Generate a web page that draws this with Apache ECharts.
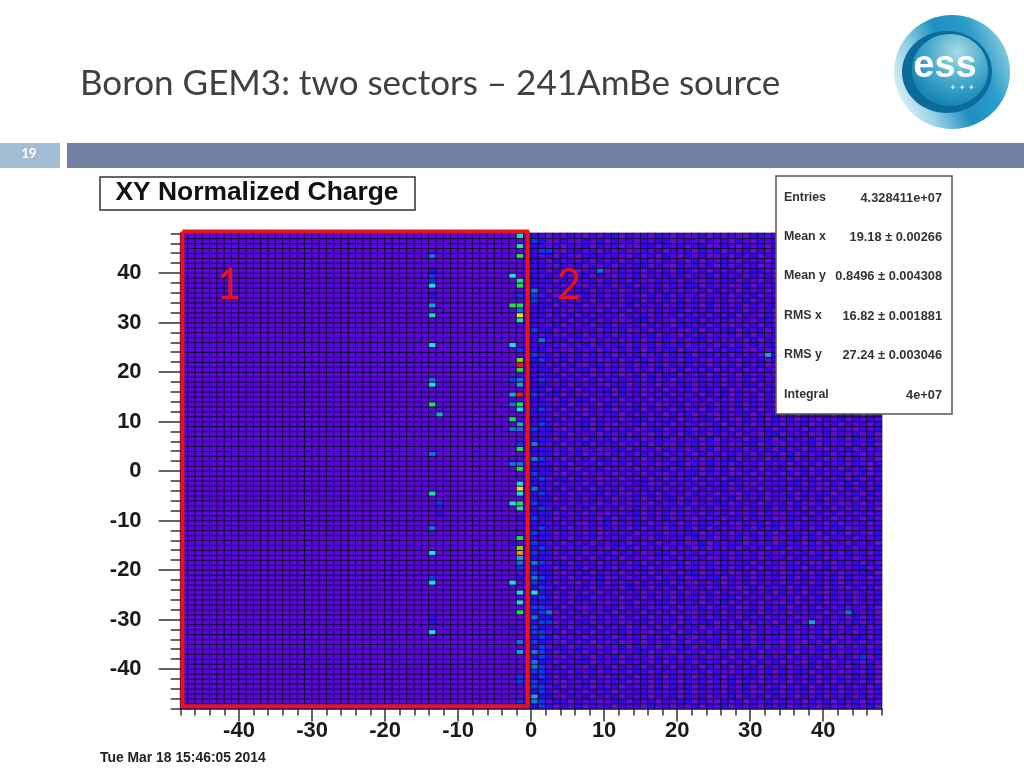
<!DOCTYPE html>
<html>
<head>
<meta charset="utf-8">
<title>Boron GEM3</title>
<script src="https://cdn.jsdelivr.net/npm/echarts@6/dist/echarts.min.js"></script>
<style>
html, body { margin: 0; padding: 0; background: #fff; }
#chart { width: 1024px; height: 768px; filter: blur(0.45px); }
</style>
</head>
<body>
<div id="chart"></div>
<script>
const slideTitle = 'Boron GEM3: two sectors \u2013 241AmBe source';
const slideNumber = '19';
const histTitle = 'XY Normalized Charge';
const dateStamp = 'Tue Mar 18 15:46:05 2014';
const statLabels = ['Entries', 'Mean x', 'Mean y', 'RMS x', 'RMS y', 'Integral'];
const statValues = ['4.328411e+07', '19.18 \u00b1 0.00266', '0.8496 \u00b1 0.004308', '16.82 \u00b1 0.001881', '27.24 \u00b1 0.003046', '4e+07'];

const sectorBox = [[-47.75, 48.4], [-0.48, 48.4], [-0.48, -47.5], [-47.75, -47.5], [-47.75, 48.4]];

// colour steps, level 0 = purple ... level 13 = red
const levelColors = ['#6410d0', '#5a08dc', '#3e06ea', '#2e0cf0', '#0c3cf0', '#1274dc', '#1aa4d8', '#20e0e8',
  '#20e0a4', '#20e050', '#78e010', '#e8e020', '#f09010', '#e82010'];
const sectorOneLevel = 1;

// [x bin, y bin, level]
const hotCells = [
  [-14,43,5],[-14,40,3],[-14,39,4],[-14,38,4],[-14,37,7],[-14,35,3],[-14,33,6],[-14,31,8],[-14,25,7],[-14,18,5],[-14,17,7],
  [-14,13,9],[-13,11,6],[-14,3,5],[-14,-5,8],[-13,-7,4],[-13,-9,3],[-14,-12,5],[-14,-17,7],[-14,-22,4],[-14,-23,7],
  [-14,-30,3],[-14,-31,3],[-14,-33,7],
  [-2,47,8],[-2,45,8],[-2,43,9],[-2,38,8],[-2,37,9],[-2,35,4],[-2,33,9],[-2,32,5],[-2,31,11],[-2,30,8],[-2,24,4],
  [-2,22,10],[-2,21,13],[-2,20,9],[-2,18,5],[-2,17,6],[-2,15,13],[-2,13,9],[-2,12,7],[-2,9,6],[-2,8,5],[-2,5,4],[-2,4,9],
  [-2,1,5],[-2,0,9],[-2,-3,7],[-2,-4,11],[-2,-5,7],[-2,-7,9],[-2,-8,8],[-2,-10,3],[-2,-14,9],[-2,-16,10],[-2,-17,12],
  [-2,-18,6],[-2,-19,5],[-2,-20,4],[-2,-22,3],[-2,-25,7],[-2,-27,7],[-2,-29,9],[-2,-35,5],[-2,-37,6],[-2,-42,4],[-2,-43,4],[-2,-47,4],
  [-3,39,7],[-3,33,9],[-3,25,7],[-3,18,4],[-3,15,6],[-3,13,5],[-3,10,9],[-3,8,5],[-3,1,5],[-3,-7,7],[-3,-15,3],[-3,-23,7],[-3,-32,3],
  [0,46,4],[0,36,5],[0,34,4],[0,5,5],[0,2,5],[0,-4,5],[0,-19,5],[0,-22,5],[0,-25,7],[0,-30,5],[0,-32,4],[0,-37,5],[0,-39,5],[0,-40,5],[0,-46,6],[0,-47,5],
  [9,40,5],[2,44,4],[1,26,5],[32,23,6],[2,-29,5],[43,-29,5],[38,-31,6]
];

// sector 2, one string per y bin from 47 down to -48, one digit per x bin from 0 to 47
const sectorTwoRows = [
  '320212102123021203202112021210221302120212012021',
  '230121021302120212301210212031021202130210212102',
  '321202130212010230212023012102120321201212021210',
  '242103212021201312021202130212021201302120210212',
  '312021023212102120310212012021302102120213021202',
  '220312120213021201212030212102120212012130212012',
  '321021302120212302102121203021201302120212021230',
  '230212012301212021203212021201321021202130212102',
  '312120230210213021212021302120212012102302120212',
  '223021212031202102130210212302102120312021021203',
  '321202102120230212021230212012021302120130212021',
  '230121230212012302120212031202120212102123021202',
  '412021021302121021302120212021302102312021202130',
  '321302120212023021203021212013021202120213021202',
  '232021302102130212012120302120212310212021202103',
  '321210212031202102123021202130212021201302102120',
  '230203021212021302120212021302102123021201302121',
  '312120213021012302102130212012023021202130212012',
  '221302120230212021203212021021302120121202102130',
  '423021212021301202121030212302120212031202130212',
  '312102302120212130210212021203021212021203021201',
  '241230210212012021302123021120302102130212021230',
  '322102130212302120212021203021212302102021213021',
  '331210212021203021230212021321021202120130212102',
  '412021302130212012021203212021201302312021202120',
  '342130212012021302120321021202130212021302120212',
  '321202102302120213021212021302120123021202103212',
  '232021230212021202103021302120212021302120212031',
  '312302120213012021230212021203121021202130212021',
  '241021203021212031202102130212021230212012021302',
  '322130212102302120212302120212302102130212021210',
  '330212021230212012021203212021021302120212013021',
  '412302102120312021302120213021202123021203012120',
  '321021230212021203021212021021302120212302120213',
  '232130212031202120123021202130212012021302120212',
  '341202102120213021202120312021202130212102120302',
  '322021302123021212031202102123021202021230212012',
  '231302120212012302120212302102120312021021302121',
  '342021230210212021302120130212021202130212021203',
  '423102120302120123021202123021213021202120210213',
  '322130212021302102120312021202102302120130212020',
  '233021202130212012302120302120213021212021302121',
  '421202130212021302102130212012302102123021202130',
  '332120212012302120212021302120212031202102130212',
  '323021302102120312021203021212021203021230212021',
  '241202120230212021302120212302120213021201302120',
  '332130212021302120123021213021202120212031202102',
  '323021021302120212302120212021302120130212021302',
  '432102302120213021021230212012021203021212301202',
  '341230212012021203021302120321202130212021203021',
  '322021203021212301202120213021021212302102130212',
  '431202130212021213021202123021202130212012021203',
  '342130212302102120212031202102130212021230212021',
  '323021202120213021230212021302120212021302120213',
  '432120213021202102120302123021202120310212012021',
  '341302120212013021213021202120213021202120302120',
  '332021302102123021202120312021302102120213021212',
  '423021212030212021302102120230212012302120212031',
  '331202102130212302120212302102130212021203021202',
  '342130212021203021021203021212021302120212301212',
  '423021203012120213021230212021203021212031202102',
  '332120213021202102123021202130212012302102120213',
  '431302120212302120212013021230212021203021202120',
  '342021302102130212021203021202120230212102130212',
  '433021202130212012302120212031202102130212021203',
  '332102120213021202130212012021302120212302120212',
  '441230212021203021213021202123021202120130212021',
  '332021302120212302102120213021202102302120212302',
  '423102130212021302120230212012021302120212021230',
  '342120212301202120213021230212021203021212031202',
  '433021021302120212302102120213021202120213021212',
  '341302120212031202130212021201302120212302102130',
  '432021203021212021203021302120212031202102120212',
  '343021230212013021202120212302120212021302120213',
  '332120212102130212302120213021202103021202130212',
  '441302102123021202120213021201202130212021302120',
  '342021302120212031202102130212302120212302102120',
  '433102120213021202130212021202130212012021203021',
  '344021230212012302120212302120212021302120213021',
  '332120213021202120302120213021021203021212021302',
  '441302120212302102120312021203021212021302120212',
  '343021202130212021302102120213021202130212012302',
  '432102130212012021203021230212021202102130212021',
  '341230212021302120212302120212130212021203021202',
  '443021302120212302102120213021202103021212021213',
  '342102120213021202130212012021302120212302120402',
  '433021230212021203021302120212021302102120213021',
  '341302102120213021202120312021202120213021202130',
  '442120213021202302120213021021203021230212012021',
  '343021302102130212021202130212302120212021302120',
  '432102120212301202130212021302102120213021212030',
  '441302130212021203021202120213021202130212021203',
  '342021202130212302120302120212012302120213021202',
  '433102130212021202130212021302120212021302120212',
  '341230212012302120212302102120213021202120313021',
  '342021302120212031202120213021202130212021202130'
];

const binLabels = [];   // bin index, -48 .. 47
const edgeLabels = [];  // bin edges, -48 .. 48, for the long ticks and numbers
for (let i = -48; i <= 48; i++) {
  edgeLabels.push(String(i));
  if (i < 48) binLabels.push(i);
}
const isTen = function (index, value) {
  return Number(value) !== 0 ? Number(value) % 10 === 0 : true;
};

const cellLevels = {};
for (let r = 0; r < sectorTwoRows.length; r++) {
  for (let c = 0; c < 48; c++) {
    cellLevels[(c + 48) + '_' + (95 - r)] = Number(sectorTwoRows[r][c] || 2);
  }
}
hotCells.forEach(function (h) {
  cellLevels[(h[0] + 48) + '_' + (h[1] + 48)] = h[2];
});

const heatData = [];
for (let xi = 0; xi < 96; xi++) {
  for (let yi = 0; yi < 96; yi++) {
    const key = xi + '_' + yi;
    heatData.push([xi, yi, key in cellLevels ? cellLevels[key] : sectorOneLevel]);
  }
}

function textEl(str, x, y, font, fill, align, vAlign) {
  return {
    type: 'text', z: 100, x: x, y: y,
    style: { text: str, font: font, fill: fill, align: align || 'left', verticalAlign: vAlign || 'middle' }
  };
}
function rectEl(x, y, w, h, fill, stroke) {
  return {
    type: 'rect', z: 90,
    shape: { x: x, y: y, width: w, height: h },
    style: { fill: fill, stroke: stroke || null, lineWidth: stroke ? 1.5 : 0 }
  };
}
function ellipseEl(cx, cy, rx, ry, fill) {
  return { type: 'ellipse', z: 91, shape: { cx: cx, cy: cy, rx: rx, ry: ry }, style: { fill: fill } };
}
function radial(x, y, r, stops) {
  return new echarts.graphic.RadialGradient(x, y, r, stops.map(function (c, i) {
    return { offset: i / (stops.length - 1), color: c };
  }));
}
function linear(x0, y0, x1, y1, stops) {
  return new echarts.graphic.LinearGradient(x0, y0, x1, y1, stops.map(function (c, i) {
    return { offset: i / (stops.length - 1), color: c };
  }));
}

const graphics = [
  textEl(slideTitle, 80, 84, '35px Lato, "Open Sans", sans-serif', '#404040'),
  rectEl(0, 143, 60, 25, '#a3bdd3'),
  rectEl(67, 143, 957, 25, '#7480a4'),
  textEl(slideNumber, 29, 154, 'bold 13px Lato, sans-serif', '#ffffff', 'center'),
  rectEl(100, 177, 315, 33, '#ffffff', '#333333'),
  textEl(histTitle, 257, 193, 'bold 26.4px "Liberation Sans", sans-serif', '#111111', 'center'),
  textEl(dateStamp, 100, 758, 'bold 13.9px "Liberation Sans", sans-serif', '#222222'),
  rectEl(776, 176, 176, 238, '#ffffff', '#555555'),
  textEl('1', 229, 285, '42px Lato, sans-serif', '#e8141c', 'center'),
  textEl('2', 569, 285, '42px Lato, sans-serif', '#e8141c', 'center'),
  // logo
  ellipseEl(952, 72, 58, 57, linear(0, 0.7, 1, 0.3, ['#e4f3f8', '#8fcfe4', '#1e8fc0', '#2a9cc8', '#8ccde2'])),
  ellipseEl(947, 72, 45, 41, '#0b6c9c'),
  ellipseEl(950, 70, 38, 36, radial(0.6, 0.25, 0.8, ['#a8dbe4', '#4aaccc', '#0f7fae'])),
  textEl('ess', 945, 67, 'bold 38px "Liberation Sans", sans-serif', '#ffffff', 'center'),
  textEl('\u2726 \u2726 \u2726', 962, 88, '8px "DejaVu Sans", sans-serif', '#cfeaf2', 'center')
];
statLabels.forEach(function (label, i) {
  const rowY = [197, 236, 275, 315, 354, 394][i];
  graphics.push(textEl(label, 784, rowY + 1, 'bold 12.4px "Liberation Sans", sans-serif', '#333333'));
  graphics.push(textEl(statValues[i], 942, rowY + 1, 'bold 12.8px "Liberation Sans", sans-serif', '#333333', 'right'));
});

const tickLine = { color: '#333333', width: 1.5 };
const labelFont = { color: '#1a1a1a', fontSize: 22, fontWeight: 'bold', fontFamily: '"Liberation Sans", sans-serif' };

const option = {
  animation: false,
  backgroundColor: '#ffffff',
  grid: { left: 180.6, top: 233.4, width: 701, height: 475.2, containLabel: false },
  visualMap: {
    show: false, seriesIndex: 0, dimension: 2, min: 0, max: 13,
    inRange: { color: levelColors }
  },
  xAxis: [
    { type: 'category', data: binLabels, show: false },
    {
      type: 'category', data: edgeLabels, boundaryGap: false, position: 'bottom',
      axisLine: { show: false },
      axisTick: { show: true, length: 13, lineStyle: tickLine, interval: isTen },
      axisLabel: Object.assign({ show: true, interval: isTen, margin: 11, hideOverlap: false }, labelFont)
    },
    {
      type: 'value', min: -48, max: 48, interval: 2, position: 'bottom', splitLine: { show: false },
      axisLine: { show: true, lineStyle: tickLine },
      axisTick: { show: true, length: 7, lineStyle: tickLine },
      axisLabel: { show: false }
    }
  ],
  yAxis: [
    { type: 'category', data: binLabels, show: false },
    {
      type: 'category', data: edgeLabels, boundaryGap: false, position: 'left',
      axisLine: { show: false },
      axisTick: { show: true, length: 22, lineStyle: tickLine, interval: isTen },
      axisLabel: Object.assign({ show: true, interval: isTen, margin: 39, hideOverlap: false }, labelFont)
    },
    {
      type: 'value', min: -48, max: 48, interval: 2, position: 'left', splitLine: { show: false },
      axisLine: { show: true, lineStyle: tickLine },
      axisTick: { show: true, length: 10, lineStyle: tickLine },
      axisLabel: { show: false }
    }
  ],
  series: [
    {
      type: 'heatmap', xAxisIndex: 0, yAxisIndex: 0, data: heatData, progressive: 0,
      itemStyle: { borderColor: '#12082e', borderWidth: 0.9 },
      emphasis: { disabled: true }
    },
    {
      type: 'line', xAxisIndex: 2, yAxisIndex: 2, data: sectorBox, symbol: 'none', clip: false, z: 5,
      lineStyle: { color: '#e8141c', width: 4, join: 'round' }, silent: true
    }
  ],
  graphic: { elements: graphics }
};

const myChart = echarts.init(document.getElementById('chart'), null, { renderer: 'canvas' });
myChart.setOption(option);
</script>
</body>
</html>
